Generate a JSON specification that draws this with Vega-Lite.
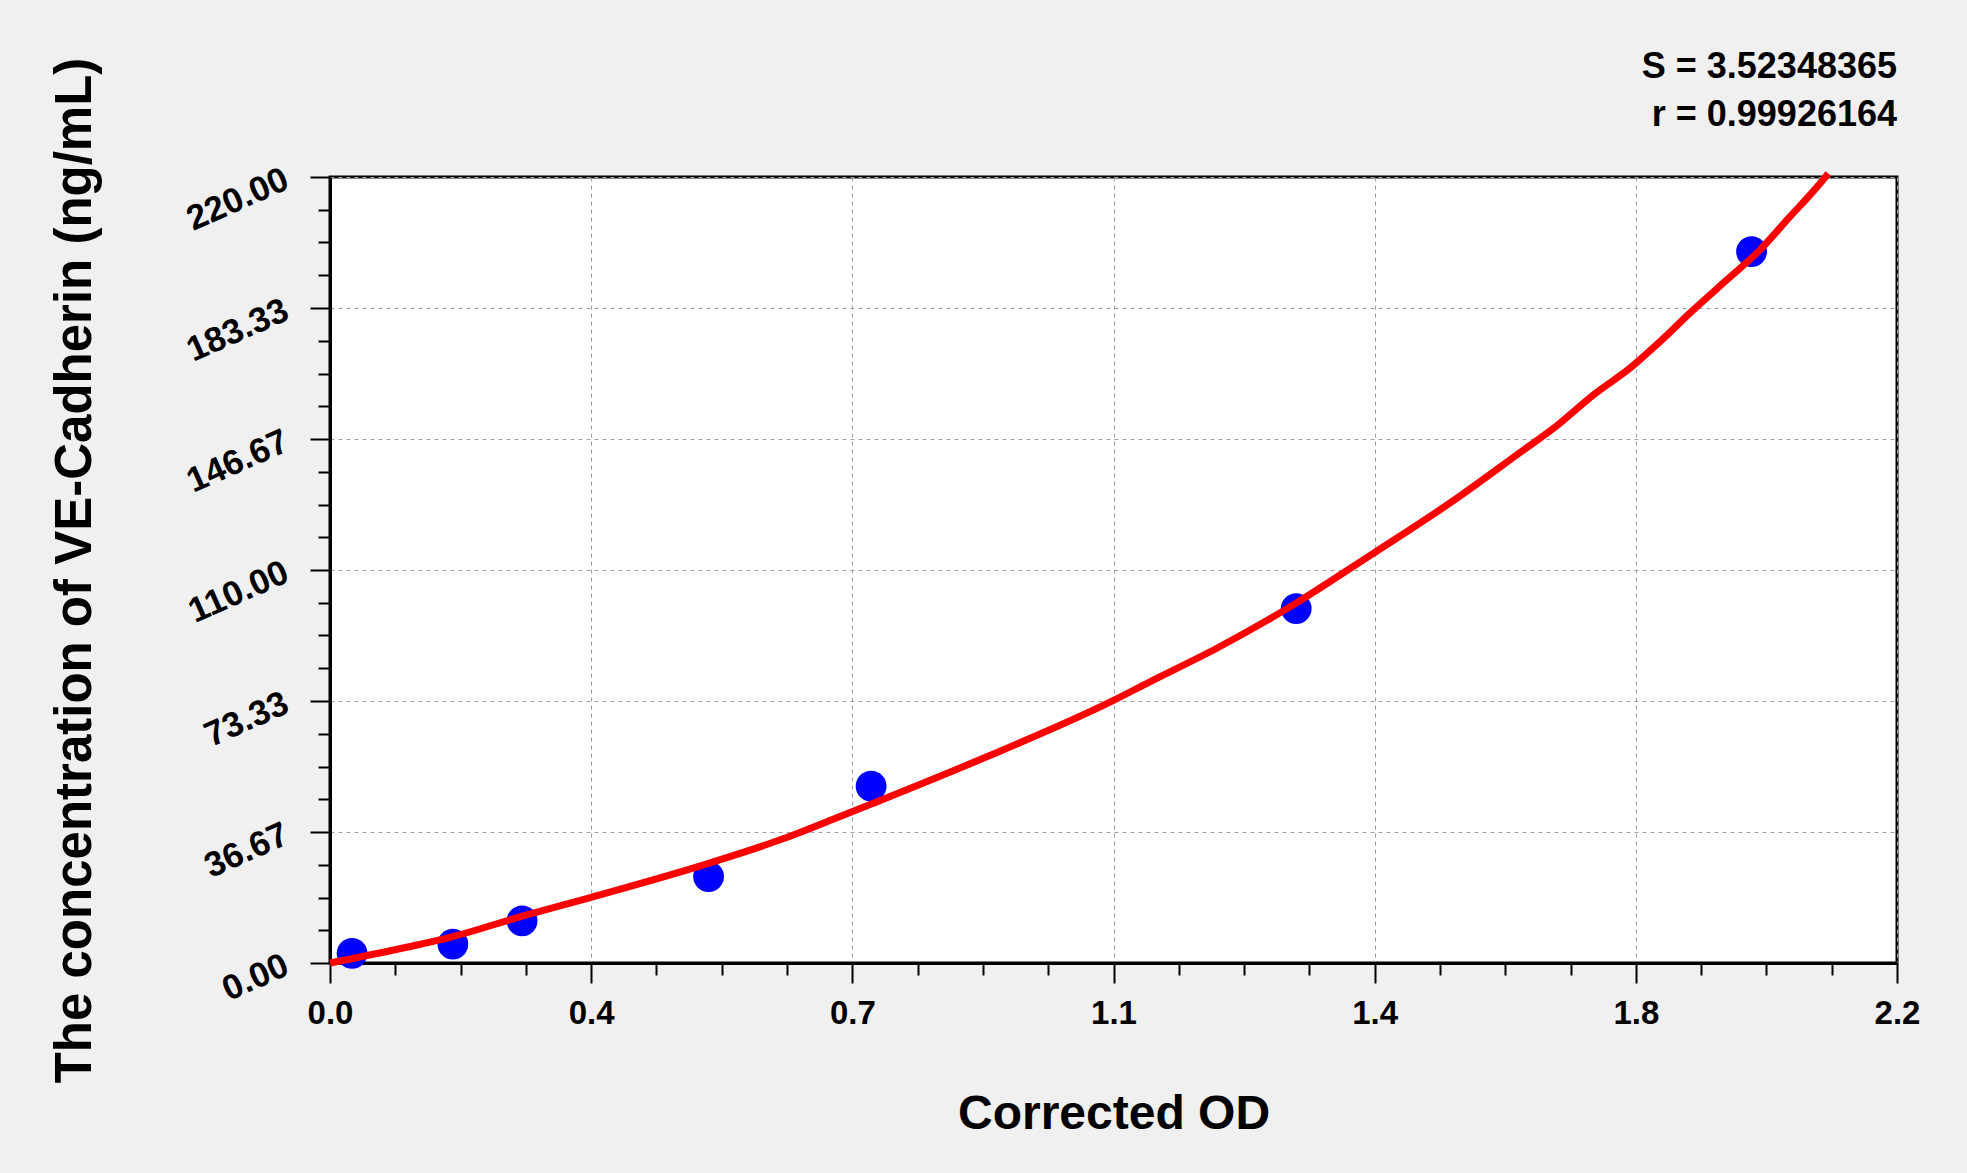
{
  "$schema": "https://vega.github.io/schema/vega-lite/v6.json",
  "width": 1567,
  "height": 786,
  "autosize": {"type": "none"},
  "padding": {"left": 330, "top": 177, "right": 70, "bottom": 210},
  "background": "#f0f0f0",
  "title": {
    "text": ["S = 3.52348365", "r = 0.99926164"],
    "anchor": "end",
    "frame": "group",
    "font": "Liberation Sans",
    "fontSize": 36,
    "fontWeight": "bold",
    "color": "black",
    "lineHeight": 48,
    "offset": -77
  },
  "datasets": {
    "standards": [
      {"od": 0.031, "conc": 2.7},
      {"od": 0.1725, "conc": 5.3},
      {"od": 0.2697, "conc": 11.8},
      {"od": 0.5315, "conc": 24.2},
      {"od": 0.7597, "conc": 49.5},
      {"od": 1.3565, "conc": 99.2},
      {"od": 1.9958, "conc": 199.1}
    ],
    "fit": [
      {"od": 0, "conc": 0},
      {"od": 0.086, "conc": 3.5},
      {"od": 0.1725, "conc": 7.4},
      {"od": 0.27, "conc": 13.1},
      {"od": 0.3667, "conc": 18.4},
      {"od": 0.5315, "conc": 27.9},
      {"od": 0.638, "conc": 34.9},
      {"od": 0.716, "conc": 41.0},
      {"od": 0.76, "conc": 44.5},
      {"od": 0.917, "conc": 57.3},
      {"od": 1.1, "conc": 73.5},
      {"od": 1.151, "conc": 78.7},
      {"od": 1.245, "conc": 88.1},
      {"od": 1.357, "conc": 100.8},
      {"od": 1.429, "conc": 110.0},
      {"od": 1.4667, "conc": 114.9},
      {"od": 1.572, "conc": 128.7},
      {"od": 1.666, "conc": 142.2},
      {"od": 1.7268, "conc": 151.1},
      {"od": 1.7736, "conc": 159.0},
      {"od": 1.8275, "conc": 166.9},
      {"od": 1.8672, "conc": 173.9},
      {"od": 1.914, "conc": 182.8},
      {"od": 1.961, "conc": 191.2},
      {"od": 2.0076, "conc": 199.6},
      {"od": 2.0497, "conc": 208.9},
      {"od": 2.082, "conc": 215.9},
      {"od": 2.1035, "conc": 221.0}
    ]
  },
  "encoding": {
    "x": {
      "field": "od",
      "type": "quantitative",
      "scale": {"domain": [0, 2.2], "nice": false, "zero": false},
      "axis": {
        "title": "Corrected OD",
        "titleFontSize": 48,
        "titlePadding": 60,
        "values": [0, 0.091667, 0.183333, 0.275, 0.366667, 0.458333, 0.55, 0.641667, 0.733333, 0.825, 0.916667, 1.008333, 1.1, 1.191667, 1.283333, 1.375, 1.466667, 1.558333, 1.65, 1.741667, 1.833333, 1.925, 2.016667, 2.108333, 2.2],
        "labelExpr": "abs(datum.value*60/22 - round(datum.value*60/22)) < 0.001 ? ['0.0','0.4','0.7','1.1','1.4','1.8','2.2'][round(datum.value*60/22)] : ''",
        "tickSize": {"condition": {"test": "abs(datum.value*60/22 - round(datum.value*60/22)) < 0.001", "value": 20}, "value": 12},
        "gridOpacity": {"condition": {"test": "abs(datum.value*60/22 - round(datum.value*60/22)) < 0.001", "value": 1}, "value": 0},
        "labelPadding": 14
      }
    },
    "y": {
      "field": "conc",
      "type": "quantitative",
      "scale": {"domain": [0, 220], "nice": false, "zero": false},
      "axis": {
        "title": "The concentration of VE-Cadherin (ng/mL)",
        "titleFontSize": 51,
        "titlePadding": 80,
        "values": [0, 9.166667, 18.333333, 27.5, 36.666667, 45.833333, 55, 64.166667, 73.333333, 82.5, 91.666667, 100.833333, 110, 119.166667, 128.333333, 137.5, 146.666667, 155.833333, 165, 174.166667, 183.333333, 192.5, 201.666667, 210.833333, 220],
        "labelExpr": "abs(datum.value*6/220 - round(datum.value*6/220)) < 0.001 ? format(datum.value, '.2f') : ''",
        "tickSize": {"condition": {"test": "abs(datum.value*6/220 - round(datum.value*6/220)) < 0.001", "value": 20}, "value": 12},
        "gridOpacity": {"condition": {"test": "abs(datum.value*6/220 - round(datum.value*6/220)) < 0.001", "value": 1}, "value": 0},
        "labelAngle": -24,
        "labelAlign": "right",
        "labelBaseline": "middle",
        "labelFontSize": 35,
        "labelPadding": 24
      }
    }
  },
  "layer": [
    {
      "data": {"name": "standards"},
      "mark": {"type": "circle", "size": 950, "color": "#0000ff", "opacity": 1}
    },
    {
      "data": {"name": "fit"},
      "mark": {"type": "line", "color": "#ff0000", "strokeWidth": 7, "interpolate": "monotone", "clip": false}
    }
  ],
  "config": {
    "view": {"fill": "white", "stroke": "black", "strokeWidth": 3},
    "axis": {
      "domainColor": "black",
      "domainWidth": 3,
      "tickColor": "black",
      "tickWidth": 2,
      "grid": true,
      "gridColor": "#a0a0a0",
      "gridDash": [4, 4],
      "gridWidth": 1,
      "labelFont": "Liberation Sans",
      "labelFontSize": 33,
      "labelFontWeight": "bold",
      "labelColor": "black",
      "labelFlush": false,
      "labelOverlap": false,
      "titleFont": "Liberation Sans",
      "titleFontWeight": "bold",
      "titleColor": "black"
    }
  }
}
